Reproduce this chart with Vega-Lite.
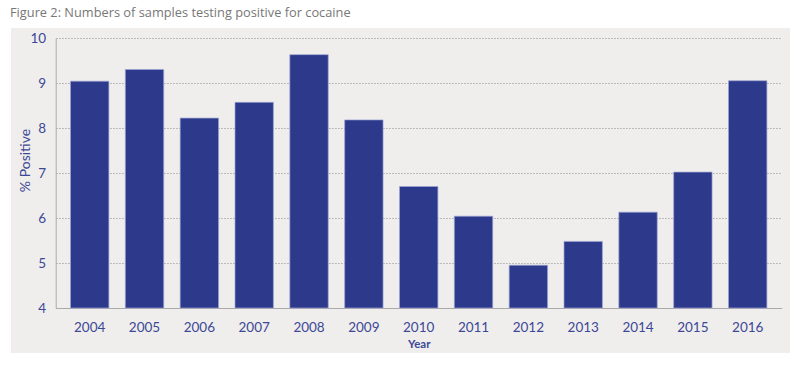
{
  "$schema": "https://vega.github.io/schema/vega-lite/v6.json",
  "autosize": {"type": "none"},
  "width": 779,
  "height": 325,
  "padding": {"left": 11, "top": 28, "right": 10, "bottom": 13},
  "background": "white",
  "title": {
    "text": "Figure 2: Numbers of samples testing positive for cocaine",
    "anchor": "start",
    "frame": "group",
    "font": "Open Sans",
    "fontSize": 12.8,
    "fontWeight": "normal",
    "color": "#777777",
    "offset": 8,
    "dx": -1
  },
  "config": {
    "view": {"stroke": null, "fill": "#EFEEEC"},
    "font": "Lato"
  },
  "data": {
    "values": [
      {"Year": "2004", "Positive": 9.04},
      {"Year": "2005", "Positive": 9.30},
      {"Year": "2006", "Positive": 8.22},
      {"Year": "2007", "Positive": 8.57},
      {"Year": "2008", "Positive": 9.63},
      {"Year": "2009", "Positive": 8.18},
      {"Year": "2010", "Positive": 6.70},
      {"Year": "2011", "Positive": 6.04},
      {"Year": "2012", "Positive": 4.95},
      {"Year": "2013", "Positive": 5.48},
      {"Year": "2014", "Positive": 6.13},
      {"Year": "2015", "Positive": 7.02},
      {"Year": "2016", "Positive": 9.05}
    ]
  },
  "mark": {"type": "bar", "color": "#2D3A8B", "stroke": "#9CA4D4", "strokeWidth": 0.7},
  "encoding": {
    "x": {
      "field": "Year",
      "type": "ordinal",
      "scale": {"range": [44.7, 770.7], "paddingInner": 0.3, "paddingOuter": 0.27},
      "axis": {
        "title": "Year",
        "offset": -45,
        "labelAngle": 0,
        "labelFontSize": 13.5,
        "labelColor": "#3C4896",
        "labelPadding": 12,
        "ticks": false,
        "domainColor": "#AAAAAA",
        "domainWidth": 1,
        "titleFontSize": 11.5,
        "titleFontWeight": "bold",
        "titleColor": "#3C4896",
        "titlePadding": 5,
        "grid": false
      }
    },
    "y": {
      "field": "Positive",
      "type": "quantitative",
      "scale": {"domain": [4, 10], "zero": false, "range": [280, 10], "nice": false},
      "axis": {
        "title": "% Positive",
        "offset": -44.7,
        "values": [4, 5, 6, 7, 8, 9, 10],
        "labelFontSize": 13.5,
        "labelColor": "#3C4896",
        "labelPadding": 10,
        "ticks": false,
        "domainColor": "#AAAAAA",
        "domainWidth": 1,
        "grid": true,
        "gridColor": "#999999",
        "gridDash": [1.5, 1.5],
        "gridWidth": 0.8,
        "titleFontSize": 14,
        "titleFontWeight": "normal",
        "titleColor": "#3C4896",
        "titleX": -30,
        "titleY": 132,
        "titleBaseline": "middle",
        "titleAlign": "center"
      }
    },
    "y2": {"datum": 4}
  }
}
